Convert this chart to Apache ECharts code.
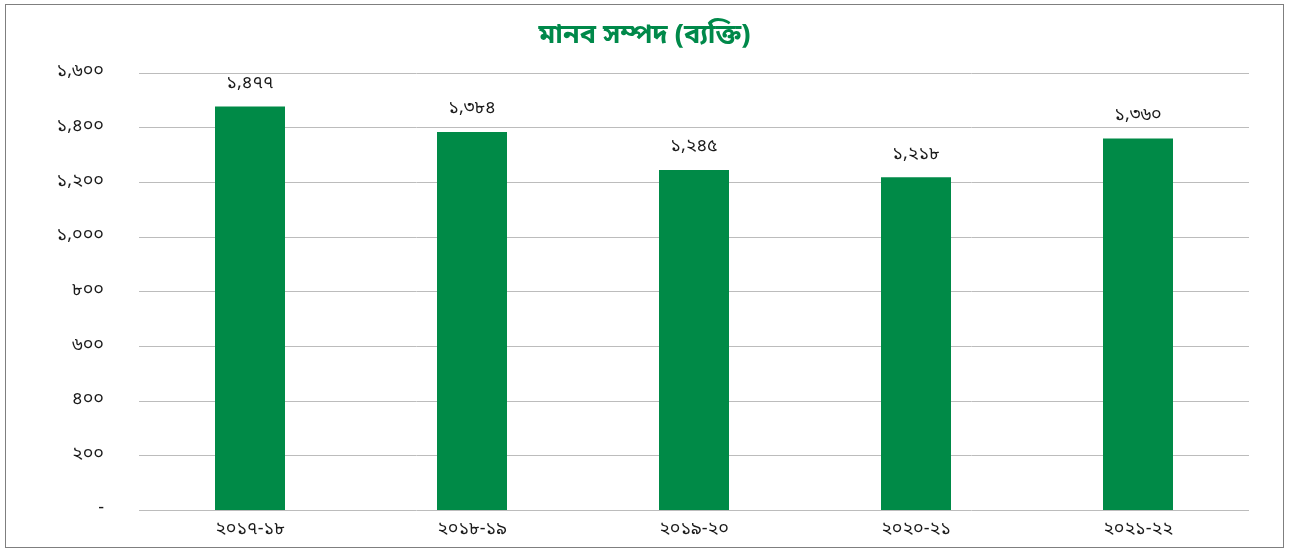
<!DOCTYPE html>
<html>
<head>
<meta charset="utf-8">
<script src="https://cdn.jsdelivr.net/npm/echarts@6/dist/echarts.min.js"></script>
<style>
  html, body { margin: 0; padding: 0; background: #fff; }
  #frame { position: absolute; left: 5px; top: 4px; width: 1277px; height: 542px; border: 1px solid #7f7f7f; }
  #chart { width: 1289px; height: 551px; position: absolute; left: 0; top: 0; }
</style>
</head>
<body>
<div id="frame"></div>
<div id="chart"></div>
<script>
  var titleText = 'মানব সম্পদ (ব্যক্তি)';
  var years = ['২০১৭-১৮', '২০১৮-১৯', '২০১৯-২০', '২০২০-২১', '২০২১-২২'];
  var staff = [1477, 1384, 1245, 1218, 1360];

  var bnDigits = ['০','১','২','৩','৪','৫','৬','৭','৮','৯'];
  function toBn(n) {
    if (n === 0) return '-';
    var s = String(n).replace(/\B(?=(\d{3})+(?!\d))/g, ',');
    return s.replace(/\d/g, function (d) { return bnDigits[+d]; });
  }

  var fontFam = '"Noto Sans Bengali", "Noto Serif Bengali", "Lohit Bengali", "Noto Sans", sans-serif';
  var chart = echarts.init(document.getElementById('chart'));
  chart.setOption({
    animation: false,
    title: {
      text: titleText,
      left: 'center',
      top: 19,
      textStyle: { color: '#00894a', fontSize: 27, fontWeight: 'bold', fontFamily: fontFam }
    },
    grid: { left: 139, right: 40, top: 73, bottom: 41 },
    xAxis: {
      type: 'category',
      data: years,
      axisLine: { show: false },
      axisTick: { show: false },
      axisLabel: { color: '#1a1a1a', fontSize: 18, margin: 12, fontFamily: fontFam }
    },
    yAxis: {
      type: 'value',
      min: 0,
      max: 1600,
      interval: 200,
      axisLine: { show: false },
      axisTick: { show: false },
      splitLine: { lineStyle: { color: '#bcbcbc', width: 1 } },
      axisLabel: {
        color: '#1a1a1a', fontSize: 18, margin: 35, fontFamily: fontFam,
        formatter: function (v) { return toBn(v); }
      }
    },
    series: [{
      type: 'bar',
      data: staff,
      barWidth: 70,
      itemStyle: { color: '#008a47' },
      label: {
        show: true,
        position: 'top',
        distance: 13,
        color: '#1a1a1a',
        fontSize: 18,
        fontFamily: fontFam,
        formatter: function (p) { return toBn(p.value); }
      }
    }]
  });
</script>
</body>
</html>
